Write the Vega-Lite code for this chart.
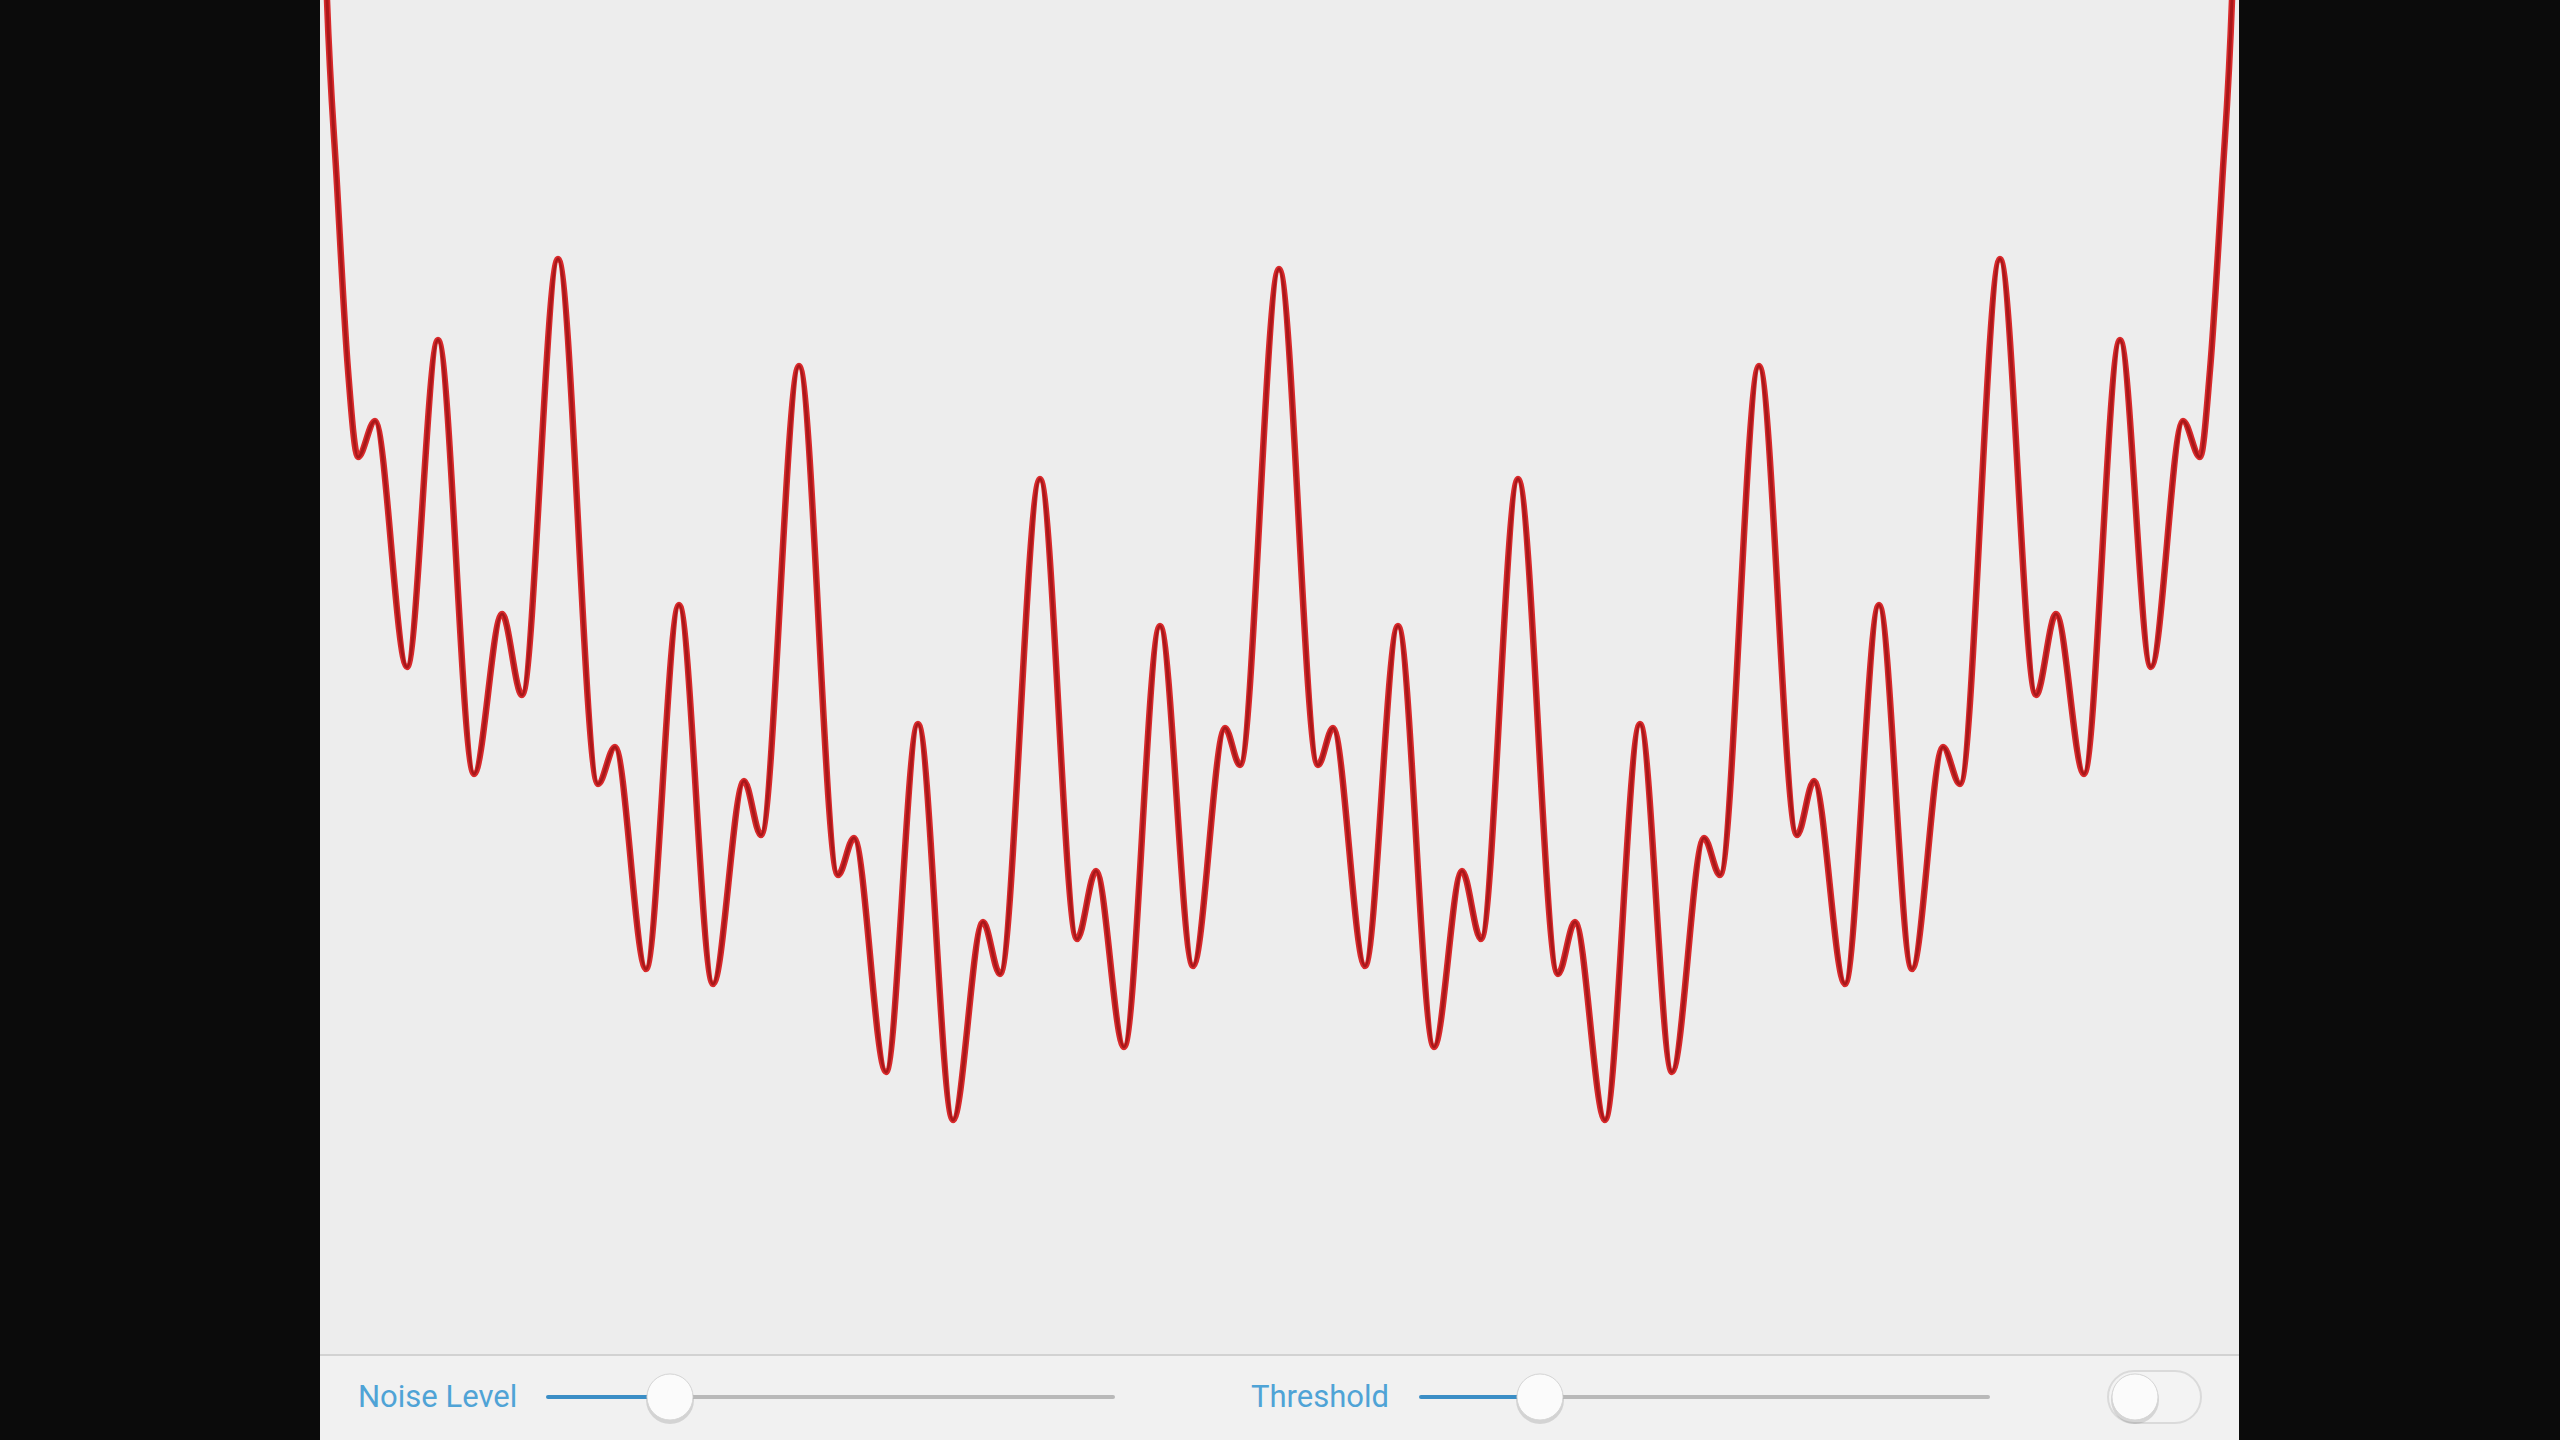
{
  "$schema": "https://vega.github.io/schema/vega-lite/v6.json",
  "width": 1919,
  "height": 1440,
  "autosize": {"type": "none"},
  "padding": {"left": 320, "right": 321, "top": 0, "bottom": 0},
  "background": "#0b0b0b",
  "config": {"view": {"stroke": null, "fill": "#ededed"}},
  "datasets": {
    "curve": [
      {"t": 1, "v": 1640}, {"t": 7, "v": 1440}, {"t": 17, "v": 1255}, {"t": 28, "v": 1070},
      {"t": 38, "v": 983}, {"t": 55, "v": 1019}, {"t": 87, "v": 773}, {"t": 118, "v": 1100},
      {"t": 154, "v": 666}, {"t": 182, "v": 826}, {"t": 202, "v": 745}, {"t": 238, "v": 1181},
      {"t": 278, "v": 656}, {"t": 295, "v": 693}, {"t": 326, "v": 471}, {"t": 359, "v": 835},
      {"t": 393, "v": 456}, {"t": 424, "v": 659}, {"t": 441, "v": 605}, {"t": 479, "v": 1074},
      {"t": 518, "v": 565}, {"t": 534, "v": 602}, {"t": 566, "v": 368}, {"t": 598, "v": 716},
      {"t": 633, "v": 320}, {"t": 663, "v": 518}, {"t": 680, "v": 466}, {"t": 720, "v": 961},
      {"t": 757, "v": 501}, {"t": 776, "v": 569}, {"t": 804, "v": 393}, {"t": 840, "v": 814},
      {"t": 873, "v": 474}, {"t": 905, "v": 712}, {"t": 920, "v": 675}, {"t": 959, "v": 1171},
      {"t": 998, "v": 675}, {"t": 1013, "v": 712}, {"t": 1045, "v": 474}, {"t": 1078, "v": 814},
      {"t": 1114, "v": 393}, {"t": 1142, "v": 569}, {"t": 1161, "v": 501}, {"t": 1198, "v": 961},
      {"t": 1238, "v": 466}, {"t": 1255, "v": 518}, {"t": 1285, "v": 320}, {"t": 1320, "v": 716},
      {"t": 1352, "v": 368}, {"t": 1384, "v": 602}, {"t": 1400, "v": 565}, {"t": 1439, "v": 1074},
      {"t": 1477, "v": 605}, {"t": 1494, "v": 659}, {"t": 1525, "v": 456}, {"t": 1559, "v": 835},
      {"t": 1592, "v": 471}, {"t": 1623, "v": 693}, {"t": 1640, "v": 656}, {"t": 1680, "v": 1181},
      {"t": 1716, "v": 745}, {"t": 1736, "v": 826}, {"t": 1764, "v": 666}, {"t": 1800, "v": 1100},
      {"t": 1831, "v": 773}, {"t": 1863, "v": 1019}, {"t": 1880, "v": 983}, {"t": 1890, "v": 1070},
      {"t": 1902, "v": 1255}, {"t": 1912, "v": 1440}, {"t": 1918, "v": 1640}
    ],
    "bar": [{"x0": 0, "x1": 1919, "y0": 0, "y1": 85}],
    "tracks": [
      {"x0": 228, "x1": 350, "y": 43, "part": "filled"},
      {"x0": 350, "x1": 793, "y": 43, "part": "empty"},
      {"x0": 1101, "x1": 1220, "y": 43, "part": "filled"},
      {"x0": 1220, "x1": 1668, "y": 43, "part": "empty"}
    ],
    "knobs": [
      {"x": 350, "y": 43, "control": "Noise Level"},
      {"x": 1220, "y": 43, "control": "Threshold"},
      {"x": 1815, "y": 43, "control": "Switch"}
    ],
    "switch": [{"x0": 1788, "x1": 1881, "y0": 17, "y1": 69}],
    "labels": [
      {"x": 38, "y": 42, "label": "Noise Level"},
      {"x": 931, "y": 42, "label": "Threshold"}
    ]
  },
  "layer": [
    {
      "data": {"name": "bar"},
      "mark": {"type": "rect", "fill": "#f1f1f1"},
      "encoding": {
        "x": {"field": "x0", "type": "quantitative", "scale": {"domain": [0, 1919], "nice": false, "zero": false}, "axis": null},
        "x2": {"field": "x1"},
        "y": {"field": "y0", "type": "quantitative", "scale": {"domain": [0, 1440], "nice": false, "zero": false}, "axis": null},
        "y2": {"field": "y1"}
      }
    },
    {
      "data": {"name": "bar"},
      "mark": {"type": "rule", "stroke": "#d2d2d2", "strokeWidth": 2},
      "encoding": {
        "x": {"field": "x0", "type": "quantitative"},
        "x2": {"field": "x1"},
        "y": {"field": "y1", "type": "quantitative"}
      }
    },
    {
      "data": {"name": "curve"},
      "mark": {"type": "line", "interpolate": "monotone", "clip": true, "stroke": "#d92a2c", "strokeWidth": 6.5, "strokeCap": "round", "strokeJoin": "round"},
      "encoding": {
        "x": {"field": "t", "type": "quantitative"},
        "y": {"field": "v", "type": "quantitative"}
      }
    },
    {
      "data": {"name": "curve"},
      "mark": {"type": "line", "interpolate": "monotone", "clip": true, "stroke": "#a8181a", "strokeWidth": 3, "strokeCap": "round", "strokeJoin": "round"},
      "encoding": {
        "x": {"field": "t", "type": "quantitative"},
        "y": {"field": "v", "type": "quantitative"}
      }
    },
    {
      "data": {"name": "tracks"},
      "mark": {"type": "rule", "strokeWidth": 4, "strokeCap": "round"},
      "encoding": {
        "x": {"field": "x0", "type": "quantitative"},
        "x2": {"field": "x1"},
        "y": {"field": "y", "type": "quantitative"},
        "color": {"field": "part", "type": "nominal", "scale": {"domain": ["filled", "empty"], "range": ["#3b8ec6", "#b9b9b9"]}, "legend": null}
      }
    },
    {
      "data": {"name": "switch"},
      "mark": {"type": "rect", "cornerRadius": 26, "fill": "#f3f3f3", "stroke": "#dadada", "strokeWidth": 2},
      "encoding": {
        "x": {"field": "x0", "type": "quantitative"},
        "x2": {"field": "x1"},
        "y": {"field": "y0", "type": "quantitative"},
        "y2": {"field": "y1"}
      }
    },
    {
      "data": {"name": "knobs"},
      "mark": {"type": "circle", "size": 2300, "fill": "#000000", "opacity": 0.12, "yOffset": 3},
      "encoding": {
        "x": {"field": "x", "type": "quantitative"},
        "y": {"field": "y", "type": "quantitative"}
      }
    },
    {
      "data": {"name": "knobs"},
      "mark": {"type": "circle", "size": 2124, "fill": "#fbfbfb", "opacity": 1, "stroke": "#d4d4d4", "strokeWidth": 1},
      "encoding": {
        "x": {"field": "x", "type": "quantitative"},
        "y": {"field": "y", "type": "quantitative"}
      }
    },
    {
      "data": {"name": "labels"},
      "mark": {"type": "text", "align": "left", "baseline": "middle", "font": "Roboto", "fontSize": 31, "fill": "#4fa3d6"},
      "encoding": {
        "x": {"field": "x", "type": "quantitative"},
        "y": {"field": "y", "type": "quantitative"},
        "text": {"field": "label"}
      }
    }
  ]
}
